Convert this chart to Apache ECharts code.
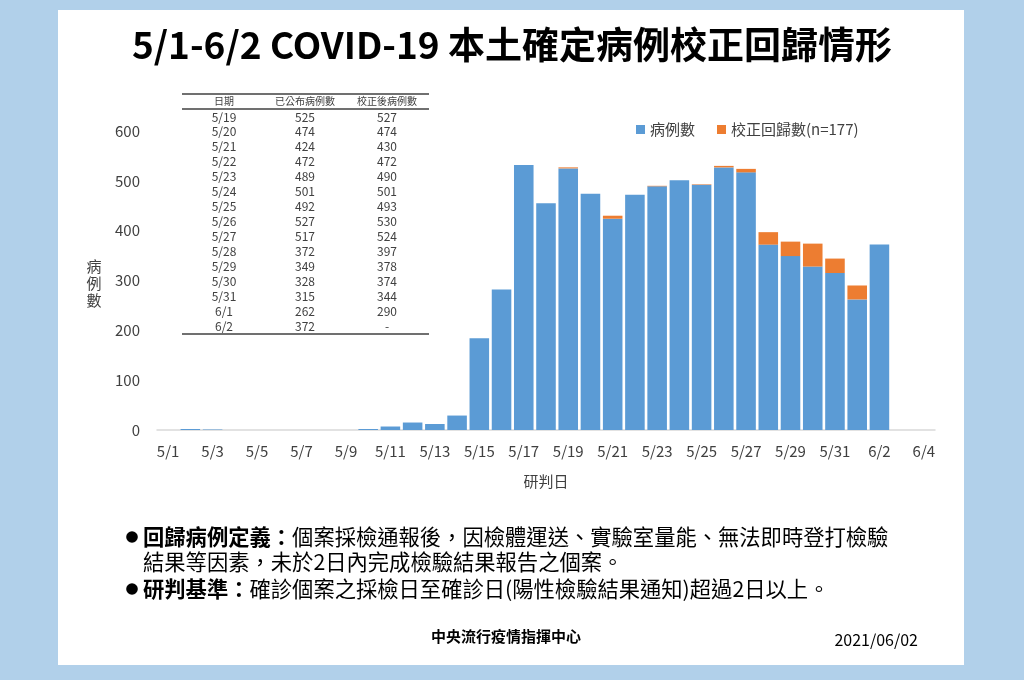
<!DOCTYPE html>
<html>
<head>
<meta charset="utf-8">
<script src="https://cdn.jsdelivr.net/npm/echarts@6/dist/echarts.min.js"></script>
<style>
	html, body { margin: 0; padding: 0; background: #b1d0ea; }
	#panel { position: absolute; left: 58px; top: 10px; width: 906px; height: 655px; background: #ffffff; }
	#main { position: absolute; left: 0; top: 0; width: 1024px; height: 680px; }
</style>
</head>
<body>
<div id="panel"></div>
<div id="main"></div>
<script>
var categories = ['5/1', '5/2', '5/3', '5/4', '5/5', '5/6', '5/7', '5/8', '5/9', '5/10',
	'5/11', '5/12', '5/13', '5/14', '5/15', '5/16', '5/17', '5/18', '5/19', '5/20',
	'5/21', '5/22', '5/23', '5/24', '5/25', '5/26', '5/27', '5/28', '5/29', '5/30',
	'5/31', '6/1', '6/2', '6/3', '6/4'];

// 5/1 - 5/18，讀自圖上
var earlyCases = [0, 2, 1, 0, 0, 0, 0, 0, 0, 2, 7, 15, 12, 29, 184, 282, 532, 455];

// 表格：5/19 - 6/2
var tableDates = ['5/19', '5/20', '5/21', '5/22', '5/23', '5/24', '5/25', '5/26',
	'5/27', '5/28', '5/29', '5/30', '5/31', '6/1', '6/2'];
var publishedCases = [525, 474, 424, 472, 489, 501, 492, 527, 517, 372, 349, 328, 315, 262, 372];
var correctedCases = [527, 474, 430, 472, 490, 501, 493, 530, 524, 397, 378, 374, 344, 290, null];

var tableHeader = ['日期', '已公布病例數', '校正後病例數'];

var fontCJK = '"Noto Sans CJK TC", "Noto Sans", sans-serif';

var blueData = [];
var orangeData = [];
for (var i = 0; i < categories.length; i++) {
	if (i < earlyCases.length) {
		blueData.push(earlyCases[i]);
		orangeData.push(null);
	} else if (i - earlyCases.length < publishedCases.length) {
		var k = i - earlyCases.length;
		blueData.push(publishedCases[k]);
		if (correctedCases[k] != null && correctedCases[k] > publishedCases[k]) {
			orangeData.push(correctedCases[k] - publishedCases[k]);
		} else {
			orangeData.push(null);
		}
	} else {
		blueData.push(null);
		orangeData.push(null);
	}
}

function makeTable() {
	var els = [];
	var colX = [224, 305, 387];
	var left = 182, right = 429;
	var rowTop = 117, rowH = 14.93;

	els.push({ type: 'line', shape: { x1: left, y1: 94, x2: right, y2: 94 }, style: { stroke: '#404040', lineWidth: 1.5 } });
	els.push({ type: 'line', shape: { x1: left, y1: 109, x2: right, y2: 109 }, style: { stroke: '#404040', lineWidth: 1.5 } });

	for (var c = 0; c < tableHeader.length; c++) {
		els.push({
			type: 'text', x: colX[c], y: 101,
			style: { text: tableHeader[c], fontSize: 10, fontFamily: fontCJK, fill: '#404040', align: 'center', verticalAlign: 'middle' }
		});
	}
	for (var r = 0; r < tableDates.length; r++) {
		var y = rowTop + r * rowH;
		var cells = [tableDates[r], String(publishedCases[r]), correctedCases[r] == null ? '-' : String(correctedCases[r])];
		for (var j = 0; j < cells.length; j++) {
			els.push({
				type: 'text', x: colX[j], y: y,
				style: { text: cells[j], fontSize: 12, fontFamily: fontCJK, fill: '#404040', align: 'center', verticalAlign: 'middle' }
			});
		}
	}
	var bottomY = rowTop + (tableDates.length - 1) * rowH + 8;
	els.push({ type: 'line', shape: { x1: left, y1: bottomY, x2: right, y2: bottomY }, style: { stroke: '#404040', lineWidth: 1.5 } });
	return els;
}

function makeNotes() {
	var rich = { b: { fontWeight: 'bold', fontSize: 21.3, fontFamily: fontCJK, fill: '#000' } };
	var els = [];
	els.push({ type: 'circle', shape: { cx: 132, cy: 537, r: 5.8 }, style: { fill: '#000' } });
	els.push({ type: 'circle', shape: { cx: 132, cy: 589, r: 5.8 }, style: { fill: '#000' } });
	els.push({
		type: 'text', x: 143, y: 537,
		style: {
			text: '{b|回歸病例定義：}個案採檢通報後，因檢體運送、實驗室量能、無法即時登打檢驗',
			rich: rich, fontSize: 21.3, fontFamily: fontCJK, fill: '#000', verticalAlign: 'middle'
		}
	});
	els.push({
		type: 'text', x: 143, y: 562,
		style: { text: '結果等因素，未於2日內完成檢驗結果報告之個案。', fontSize: 21.3, fontFamily: fontCJK, fill: '#000', verticalAlign: 'middle' }
	});
	els.push({
		type: 'text', x: 143, y: 589,
		style: {
			text: '{b|研判基準：}確診個案之採檢日至確診日(陽性檢驗結果通知)超過2日以上。',
			rich: rich, fontSize: 21.3, fontFamily: fontCJK, fill: '#000', verticalAlign: 'middle'
		}
	});
	return els;
}

var chart = echarts.init(document.getElementById('main'));

var graphicEls = [
	{
		type: 'text', x: 512, y: 45,
		style: { text: '5/1-6/2 COVID-19 本土確定病例校正回歸情形', fontSize: 37, fontWeight: 'bold', fontFamily: fontCJK, fill: '#000', align: 'center', verticalAlign: 'middle' }
	},
	{
		type: 'text', x: 94, y: 283,
		style: { text: '病\n例\n數', fontSize: 15, lineHeight: 17, fontFamily: fontCJK, fill: '#404040', align: 'center', verticalAlign: 'middle' }
	},
	{
		type: 'text', x: 506, y: 636,
		style: { text: '中央流行疫情指揮中心', fontSize: 15, fontWeight: 'bold', fontFamily: fontCJK, fill: '#000', align: 'center', verticalAlign: 'middle' }
	},
	{
		type: 'text', x: 918, y: 640,
		style: { text: '2021/06/02', fontSize: 16, fontFamily: fontCJK, fill: '#000', align: 'right', verticalAlign: 'middle' }
	}
].concat(makeTable()).concat(makeNotes());

var option = {
	animation: false,
	backgroundColor: 'transparent',
	textStyle: { fontFamily: fontCJK },
	grid: { left: 157, right: 89, top: 131, bottom: 250 },
	legend: {
		left: 631, top: 117,
		icon: 'rect', itemWidth: 9, itemHeight: 9, itemGap: 22,
		textStyle: { fontSize: 15, color: '#404040', fontFamily: fontCJK },
		data: ['病例數', '校正回歸數(n=177)']
	},
	xAxis: {
		type: 'category',
		data: categories,
		boundaryGap: true,
		name: '研判日',
		nameLocation: 'middle',
		nameGap: 44,
		nameTextStyle: { fontSize: 15, color: '#404040', fontFamily: fontCJK },
		axisLine: { lineStyle: { color: '#d9d9d9', width: 1.5 } },
		axisTick: { interval: 1, length: 6, lineStyle: { color: '#d9d9d9', width: 1.5 } },
		axisLabel: { interval: 1, fontSize: 15, color: '#404040', margin: 14 }
	},
	yAxis: {
		type: 'value',
		min: 0, max: 600, interval: 100,
		axisLine: { show: false },
		axisTick: { show: false },
		splitLine: { show: false },
		axisLabel: { fontSize: 15, color: '#404040', margin: 17 }
	},
	series: [
		{
			name: '病例數', type: 'bar', stack: 'total',
			barCategoryGap: '12%',
			itemStyle: { color: '#5b9bd5' },
			data: blueData
		},
		{
			name: '校正回歸數(n=177)', type: 'bar', stack: 'total',
			itemStyle: { color: '#ed7d31' },
			data: orangeData
		}
	],
	graphic: graphicEls
};

chart.setOption(option);
</script>
</body>
</html>
